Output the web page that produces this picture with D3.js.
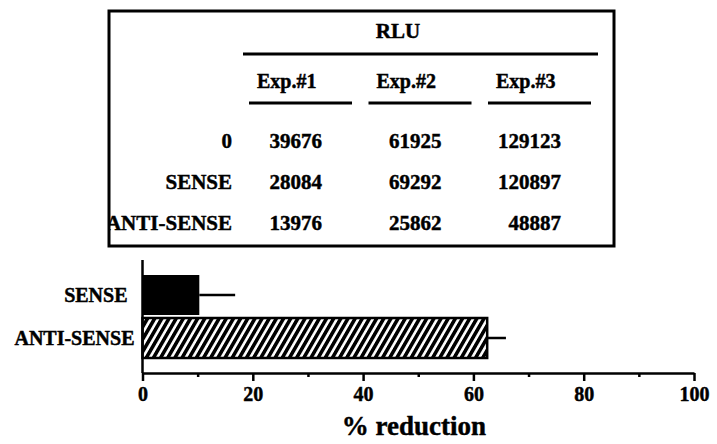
<!DOCTYPE html>
<html>
<head>
<meta charset="utf-8">
<script src="https://cdn.jsdelivr.net/npm/d3@7"></script>
<style>
  html, body { margin: 0; padding: 0; background: #fff; }
  svg { display: block; }
  text { font-family: "Liberation Serif", "Times New Roman", serif; font-weight: bold; fill: #000; stroke: #000; stroke-width: 0.45px; }
</style>
</head>
<body>
<svg id="chart" width="717" height="444"></svg>
<script>
// ---- data ----
const conditions = ["0", "SENSE", "ANTI-SENSE"];
const experiments = ["Exp.#1", "Exp.#2", "Exp.#3"];
const exp1RLU = [39676, 28084, 13976];
const exp2RLU = [61925, 69292, 25862];
const exp3RLU = [129123, 120897, 48887];
const tableTitle = "RLU";

const barCategories = ["SENSE", "ANTI-SENSE"];
const reductionMean = [10.3, 62.5];
const reductionErr = [6.5, 3.4];
const majorTicks = [0, 20, 40, 60, 80, 100];
const minorTicks = [10, 30, 50, 70, 90];
const xLabel = "% reduction";

// ---- drawing ----
const svg = d3.select("#chart");
svg.append("rect").attr("width", 717).attr("height", 444).attr("fill", "#fff");

const defs = svg.append("defs");
const pat = defs.append("pattern")
  .attr("id", "hatch")
  .attr("patternUnits", "userSpaceOnUse")
  .attr("width", 6.2).attr("height", 20)
  .attr("patternTransform", "rotate(30)");
pat.append("rect").attr("width", 6.2).attr("height", 20).attr("fill", "#fff");
pat.append("rect").attr("width", 3.6).attr("height", 20).attr("fill", "#000");

// ---- table ----
const box = { x: 109, y: 11, w: 505, h: 235 };
defs.append("clipPath").attr("id", "boxclip")
  .append("rect").attr("x", box.x).attr("y", box.y).attr("width", box.w).attr("height", box.h);

const table = svg.append("g");
const tInner = table.append("g").attr("clip-path", "url(#boxclip)");

const colScale = d3.scaleBand().domain(experiments).range([249, 591]).paddingInner(0.138);
const rowScale = d3.scalePoint().domain(conditions).range([148, 230]);
const tableValues = [exp1RLU, exp2RLU, exp3RLU];

// RLU header
tInner.append("text").attr("x", 398).attr("y", 38).attr("text-anchor", "middle")
  .style("font-size", "21px").text(tableTitle);
tInner.append("line").attr("x1", 243).attr("x2", 598).attr("y1", 54).attr("y2", 54)
  .attr("stroke", "#000").attr("stroke-width", 3);

// experiment headers + underlines
const heads = tInner.selectAll("g.head").data(experiments).join("g").attr("class", "head");
heads.append("text")
  .attr("x", d => colScale(d) + 8).attr("y", 88)
  .style("font-size", "20px").text(d => d);
heads.append("line")
  .attr("x1", d => colScale(d)).attr("x2", d => colScale(d) + colScale.bandwidth())
  .attr("y1", 103).attr("y2", 103)
  .attr("stroke", "#000").attr("stroke-width", 3);

// row labels
tInner.selectAll("text.rowlab").data(conditions).join("text").attr("class", "rowlab")
  .attr("x", 232).attr("y", d => rowScale(d)).attr("text-anchor", "end")
  .style("font-size", "21px").text(d => d);

// values
experiments.forEach((e, j) => {
  tInner.selectAll("text.val" + j).data(tableValues[j]).join("text").attr("class", "val" + j)
    .attr("x", colScale(e) + colScale.bandwidth() - 30)
    .attr("y", (d, i) => rowScale(conditions[i]))
    .attr("text-anchor", "end")
    .style("font-size", "21px")
    .text(d => d);
});

table.append("rect").attr("x", box.x).attr("y", box.y).attr("width", box.w).attr("height", box.h)
  .attr("fill", "none").attr("stroke", "#000").attr("stroke-width", 3);

// ---- bar chart ----
const x = d3.scaleLinear().domain([0, 100]).range([142.5, 694]);
const y = d3.scaleBand().domain(barCategories).range([275, 358]).paddingInner(0.07);
const axisY = 373;
const g = svg.append("g");

const bars = barCategories.map((c, i) => ({ c, v: reductionMean[i], e: reductionErr[i] }));

// error bars (drawn first, bar covers start)
g.selectAll("line.err").data(bars).join("line").attr("class", "err")
  .attr("x1", d => x(d.v)).attr("x2", d => x(d.v + d.e))
  .attr("y1", d => y(d.c) + y.bandwidth() / 2).attr("y2", d => y(d.c) + y.bandwidth() / 2)
  .attr("stroke", "#000").attr("stroke-width", 2.5);

g.selectAll("rect.bar").data(bars).join("rect").attr("class", "bar")
  .attr("x", x(0)).attr("y", d => y(d.c))
  .attr("width", d => x(d.v) - x(0)).attr("height", y.bandwidth())
  .attr("fill", (d, i) => i === 0 ? "#000" : "url(#hatch)")
  .attr("stroke", "#000")
  .attr("stroke-width", (d, i) => i === 0 ? 0 : 2.5);

// category labels
const labelGap = { "SENSE": 15, "ANTI-SENSE": 8 };
g.selectAll("text.cat").data(barCategories).join("text").attr("class", "cat")
  .attr("x", d => x(0) - labelGap[d])
  .attr("y", d => y(d) + y.bandwidth() / 2 + 6.6)
  .attr("text-anchor", "end")
  .style("font-size", "20px")
  .text(d => d);

// y axis line
g.append("line").attr("x1", x(0)).attr("x2", x(0)).attr("y1", 260).attr("y2", axisY)
  .attr("stroke", "#000").attr("stroke-width", 2.5);

// x axis (major)
const xAxis = g.append("g").attr("transform", `translate(0,${axisY})`)
  .call(d3.axisBottom(x).tickValues(majorTicks).tickSize(8).tickPadding(6).tickSizeOuter(0).tickFormat(d3.format("d")));
xAxis.select(".domain").attr("stroke", "#000").attr("stroke-width", 2.5);
xAxis.selectAll(".tick line").attr("stroke", "#000").attr("stroke-width", 2.5);
xAxis.selectAll(".tick text")
  .style("font-family", "'Liberation Serif', 'Times New Roman', serif")
  .style("font-weight", "bold").style("font-size", "20px")
  .attr("fill", "#000").attr("stroke", "#000").attr("stroke-width", 0.45);
// minor ticks
const xMinor = g.append("g").attr("transform", `translate(0,${axisY})`)
  .call(d3.axisBottom(x).tickValues(minorTicks).tickSize(4).tickFormat(""));
xMinor.select(".domain").remove();
xMinor.selectAll(".tick line").attr("stroke", "#000").attr("stroke-width", 2.5);

// x label
g.append("text").attr("x", 414).attr("y", 435).attr("text-anchor", "middle")
  .style("font-size", "27px").text(xLabel);
</script>
</body>
</html>
